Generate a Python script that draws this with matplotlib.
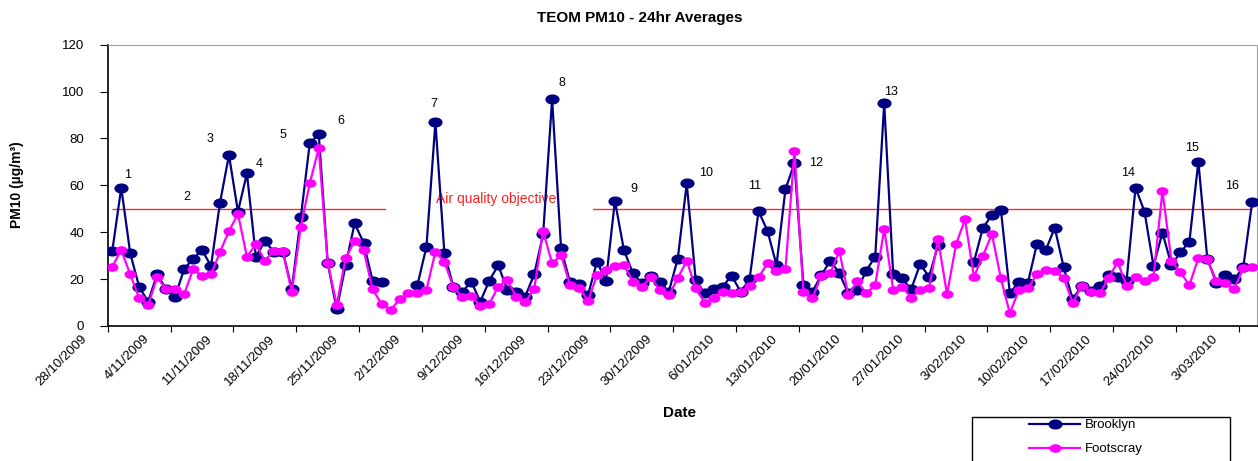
import matplotlib
matplotlib.use("Agg")
import matplotlib.pyplot as plt
import matplotlib.dates as mdates
import matplotlib.transforms as mtransforms
from matplotlib.path import Path
from matplotlib.patches import Rectangle
import numpy as np
import pandas as pd

plt.rcParams['font.family'] = ['Liberation Sans', 'DejaVu Sans']

nan = np.nan
start_date = "2009-10-28"

# 24hr averages, one value per day from 28/10/2009
brooklyn = [32.0, 59.0, 31.0, 16.6, 10.4, 22.2, 15.6, 12.5, 24.2, 28.7,
            32.4, 25.6, 52.6, 72.9, 48.8, 65.1, 29.6, 36.2, 31.7, 31.7,
            15.8, 46.3, 77.9, 81.9, 27.0, 7.1, 26.0, 43.8, 35.5, 19.3,
            18.9, nan, nan, nan, 17.5, 33.8, 86.9, 31.0, 16.8, 14.6,
            18.9, 10.4, 19.3, 26.0, 15.4, 14.6, 12.5, 22.0, 39.1, 96.8,
            33.1, 18.6, 17.9, 13.2, 27.4, 19.3, 53.4, 32.4, 22.5, 18.2,
            21.3, 18.9, 14.6, 28.7, 60.8, 19.6, 13.9, 15.6, 16.8, 21.5,
            14.6, 19.9, 49.0, 40.5, 26.0, 58.4, 69.4, 17.5, 14.6, 21.7,
            27.9, 22.5, 13.9, 15.4, 23.6, 29.6, 95.0, 22.0, 20.3, 15.6,
            26.4, 21.0, 34.5, nan, nan, nan, 27.4, 41.9, 47.3, 49.5,
            13.9, 18.9, 18.2, 34.8, 32.4, 41.9, 25.0, 11.4, 17.1, 14.9,
            17.1, 21.7, 20.8, 19.3, 59.0, 48.8, 25.6, 39.8, 26.0, 31.4,
            36.0, 70.1, 28.6, 18.5, 21.7, 19.9, 25.0, 53.0]

footscray = [25.3, 32.4, 22.0, 11.8, 9.0, 20.8, 15.6, 15.6, 13.5, 24.2,
             21.3, 22.0, 31.6, 40.5, 47.8, 29.6, 34.8, 27.9, 32.0, 32.0,
             14.4, 42.4, 60.8, 75.8, 27.0, 9.0, 28.9, 36.4, 32.4, 15.6,
             9.4, 6.8, 11.4, 14.2, 13.9, 15.4, 31.7, 27.4, 16.5, 12.5,
             12.9, 8.5, 9.4, 16.8, 19.6, 12.5, 10.4, 15.6, 40.5, 26.7,
             30.1, 17.5, 16.3, 10.8, 21.7, 23.9, 25.6, 26.0, 18.9, 16.8,
             20.8, 15.4, 13.2, 20.3, 27.9, 16.1, 10.0, 12.1, 14.4, 13.9,
             14.4, 17.1, 20.8, 26.7, 23.6, 24.3, 74.8, 14.4, 11.8, 21.5,
             22.5, 32.0, 13.2, 19.0, 13.9, 17.5, 41.4, 15.4, 16.8, 12.1,
             15.4, 16.1, 37.0, 13.5, 34.8, 45.5, 21.0, 30.0, 39.2, 20.3,
             5.4, 15.4, 16.1, 22.0, 23.9, 23.6, 20.3, 10.0, 17.1, 14.6,
             13.9, 20.3, 27.4, 17.1, 20.8, 19.3, 21.0, 57.6, 27.9, 22.9,
             17.5, 28.9, 28.4, 19.3, 18.2, 15.8, 24.6, 25.0]

objective = 50

tick_labels = ["28/10/2009", "4/11/2009", "11/11/2009", "18/11/2009",
               "25/11/2009", "2/12/2009", "9/12/2009", "16/12/2009",
               "23/12/2009", "30/12/2009", "6/01/2010", "13/01/2010",
               "20/01/2010", "27/01/2010", "3/02/2010", "10/02/2010",
               "17/02/2010", "24/02/2010", "3/03/2010"]

peak_labels = [str(i) for i in range(1, 17)]
# where the numbers sit: (days after start, value)
peak_spots = [(2.2, 64.6), (8.8, 55.0), (11.4, 79.6), (16.9, 69.2),
              (19.5, 81.3), (26.0, 87.4), (36.3, 94.5), (50.6, 103.7),
              (58.6, 58.6), (66.6, 65.4), (72.1, 59.6), (78.9, 69.6),
              (87.3, 100.0), (113.7, 65.4), (120.8, 76.0), (125.2, 59.7)]

dates = pd.date_range(start_date, periods=len(brooklyn), freq="D")
x0 = mdates.date2num(dates[0])
x = mdates.date2num(dates) + 0.5

W, H = 1258, 461
fig = plt.figure(figsize=(W / 100, H / 100), dpi=100)
ax = fig.add_axes([107.8 / W, 1 - 326 / H, (1256.7 - 107.8) / W, (326 - 44.7) / H])

circ = Path.unit_circle()
oval = Path(circ.vertices * [1.0, 0.68], circ.codes)

ax.hlines(objective, x[0], x[-1], color='#FF2A2A', lw=1.0, zorder=2)
ax.plot(x, brooklyn, color='#000080', lw=1.6, marker=oval, ms=9.2,
        mfc='#000080', mec='#000080', label='Brooklyn', zorder=3)
ax.plot(x, footscray, color='#FF00FF', lw=1.6, marker=oval, ms=7.6,
        mfc='#FF00FF', mec='#FF00FF', label='Footscray', zorder=4)

# white box behind the objective label (series pass over it)
ax.add_patch(Rectangle((x0 + 31.0, 48.4), 23.1, 9.6, facecolor='white',
                       edgecolor='none', zorder=2.5))
ax.text(x0 + 43.3, 54.0, "Air quality objective", color='#FF2020',
        fontsize=10, ha='center', va='center', zorder=2.6)

for lab, (d, v) in zip(peak_labels, peak_spots):
    ax.text(x0 + d, v, lab, fontsize=9, ha='center', va='center', zorder=6)

ax.set_xlim(x0, x0 + 128)
ax.set_ylim(0, 120)
ax.set_yticks(range(0, 121, 20))
ax.set_xticks(x0 + 7 * np.arange(len(tick_labels)))
ax.set_xticklabels(tick_labels, rotation=45, ha='right', va='top',
                   rotation_mode='anchor', fontsize=9.5)
ax.tick_params(axis='x', direction='out', length=4, pad=1)
ax.tick_params(axis='y', direction='out', length=6, pad=11, labelsize=9.5)

shift = mtransforms.ScaledTranslation(-0.27, 0, fig.dpi_scale_trans)
for lbl in ax.get_xticklabels():
    lbl.set_transform(lbl.get_transform() + shift)

for side in ['top', 'right']:
    ax.spines[side].set_color('#A0A0A0')
for side in ['left', 'bottom']:
    ax.spines[side].set_color('black')
    ax.spines[side].set_linewidth(1.2)

fig.text(640 / W, 1 - 18 / H, "TEOM PM10 - 24hr Averages", ha='center',
         va='center', fontsize=11, fontweight='bold')
fig.text(17 / W, 1 - 185 / H, "PM10 (µg/m³)", rotation=90, ha='center',
         va='center', fontsize=10, fontweight='bold')
fig.text(680 / W, 1 - 413 / H, "Date", ha='center', va='center',
         fontsize=11, fontweight='bold')

handles, labels = ax.get_legend_handles_labels()
fig.legend(handles, labels, loc='upper left',
           bbox_to_anchor=(1029 / W, 1 - 419 / H), frameon=False,
           fontsize=9.5, borderpad=0, borderaxespad=0, handlelength=3.9,
           handletextpad=0.35, labelspacing=0.9)
fig.add_artist(Rectangle((972 / W, 1 - 480 / H), 258 / W, 63 / H,
                         transform=fig.transFigure, fill=False,
                         edgecolor='black', lw=1.0))

fig.savefig("out.png", dpi=100)
